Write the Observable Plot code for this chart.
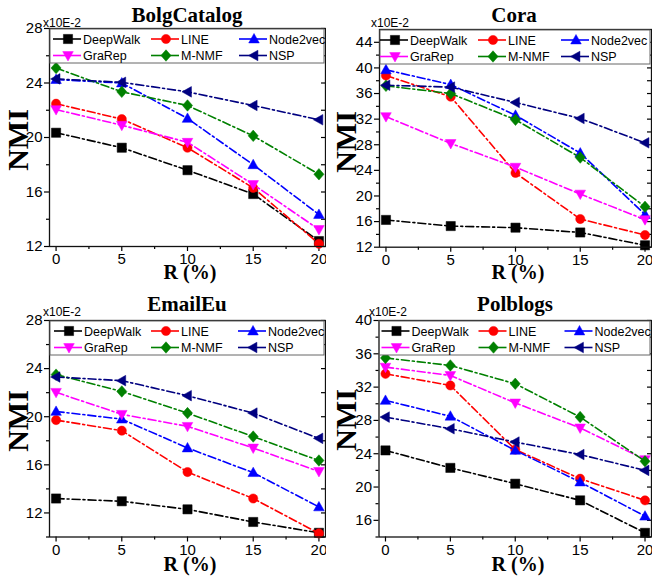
<!DOCTYPE html>
<html><head><meta charset="utf-8">
<script src="https://cdn.jsdelivr.net/npm/d3@7"></script>
<script src="https://cdn.jsdelivr.net/npm/@observablehq/plot@0.6"></script>
<style>
body{margin:0;background:#fff}
#wrap{position:relative;width:652px;height:578px;overflow:hidden;background:#fff}
.panel{position:absolute;overflow:hidden;background:#fff}
</style></head><body><div id="wrap"></div>
<script>
// ---- data ----
const R = [0, 5, 10, 15, 20];
const methods = ["DeepWalk", "LINE", "Node2vec", "GraRep", "M-NMF", "NSP"];
const colors = ["#000000", "#ff0000", "#0000ff", "#ff00ff", "#008000", "#000080"];
const datasetNames = ["BolgCatalog", "Cora", "EmailEu", "Polblogs"];
// rows in method order: DeepWalk, LINE, Node2vec, GraRep, M-NMF, NSP  (NMI x10E-2)
const bolgCatalog = [
  [20.35, 19.25, 17.6, 15.85, 12.4],
  [22.48, 21.35, 19.25, 16.3, 12.2],
  [24.25, 24.0, 21.4, 18.0, 14.35],
  [22.05, 20.9, 19.65, 16.55, 13.25],
  [25.1, 23.35, 22.35, 20.12, 17.3],
  [24.3, 24.05, 23.35, 22.35, 21.3]
];
const cora = [
  [16.26, 15.3, 15.05, 14.3, 12.3],
  [38.8, 35.5, 23.6, 16.4, 13.9],
  [39.7, 37.4, 32.6, 26.7, 17.1],
  [32.4, 28.2, 24.5, 20.3, 16.3],
  [37.2, 36.0, 31.9, 26.0, 18.3],
  [37.3, 37.0, 34.6, 32.1, 28.3]
];
const emailEu = [
  [13.2, 12.97, 12.3, 11.25, 10.35],
  [19.72, 18.84, 15.4, 13.2, 10.3],
  [20.44, 19.8, 17.4, 15.35, 12.5],
  [22.03, 20.2, 19.2, 17.4, 15.45],
  [23.5, 22.1, 20.3, 18.35, 16.36],
  [23.3, 23.0, 21.75, 20.3, 18.2]
];
const polblogs = [
  [24.4, 22.3, 20.4, 18.4, 14.5],
  [33.6, 32.2, 24.5, 21.0, 18.4],
  [30.4, 28.5, 24.4, 20.6, 16.5],
  [34.4, 33.4, 30.1, 27.1, 23.3],
  [35.5, 34.6, 32.4, 28.4, 23.1],
  [28.4, 27.0, 25.4, 23.9, 22.0]
];
const allValues = [bolgCatalog, cora, emailEu, polblogs];
const yDomains = [[12, 28], [12, 46], [10, 28], [14, 40]];
const yMajor = [[12, 16, 20, 24, 28], [12, 16, 20, 24, 28, 32, 36, 40, 44], [12, 16, 20, 24, 28], [16, 20, 24, 28, 32, 36, 40]];
const yMinor = [[14, 18, 22, 26], [14, 18, 22, 26, 30, 34, 38, 42], [10, 14, 18, 22, 26], [14, 18, 22, 26, 30, 34, 38]];
const xMajor = [0, 5, 10, 15, 20];
const xMinor = [2.5, 7.5, 12.5, 17.5];
const yUnitLabel = "x10E-2";
const yLabel = "NMI";
const xLabel = "R (%)";

// ---- layout ----
const panels = [
  {left: 0, top: 0, w: 326, h: 289, mL: 49, mR: 1, mT: 28, mB: 43, leg: [19, 117, 205], tx: 187, ty: 22, nx: 28, ny: 140, rx: 190, ry: 279, ux: 43, uy: 27},
  {left: 326, top: 0, w: 326, h: 289, mL: 53, mR: 1, mT: 29, mB: 42.3, leg: [16, 114, 197], tx: 188, ty: 22, nx: 30, ny: 142, rx: 192, ry: 279, ux: 45, uy: 27},
  {left: 0, top: 288, w: 326, h: 290, mL: 49, mR: 1, mT: 32, mB: 41.5, leg: [20, 117, 204], tx: 187, ty: 23, nx: 28, ny: 133, rx: 190, ry: 283, ux: 43, uy: 28},
  {left: 326, top: 288, w: 326, h: 290, mL: 52.5, mR: 1, mT: 32, mB: 41.5, leg: [18, 115, 201], tx: 189, ty: 23, nx: 30, ny: 132, rx: 192, ry: 283, ux: 43, uy: 28}
];

const sym = f => ({draw(ctx, size) { const r = Math.sqrt(size / Math.PI); f(ctx, r); }});
const poly = (ctx, pts) => { ctx.moveTo(pts[0][0], pts[0][1]); for (let i = 1; i < pts.length; i++) ctx.lineTo(pts[i][0], pts[i][1]); ctx.closePath(); };
const symbols = [
  sym((c, r) => poly(c, [[-r, -r], [r, -r], [r, r], [-r, r]])),
  sym((c, r) => { c.moveTo(r, 0); c.arc(0, 0, r, 0, 2 * Math.PI); }),
  sym((c, r) => poly(c, [[0, -1.2 * r], [1.15 * r, 0.85 * r], [-1.15 * r, 0.85 * r]])),
  sym((c, r) => poly(c, [[0, 1.2 * r], [1.15 * r, -0.85 * r], [-1.15 * r, -0.85 * r]])),
  sym((c, r) => poly(c, [[0, -1.25 * r], [1.1 * r, 0], [0, 1.25 * r], [-1.1 * r, 0]])),
  sym((c, r) => poly(c, [[-1.2 * r, 0], [0.85 * r, -1.15 * r], [0.85 * r, 1.15 * r]]))
];
const dotR = 4.6;
const dash = "8,3,2,3";
const sans = "'Liberation Sans', Arial, sans-serif";
const serif = "'Liberation Serif', 'Times New Roman', serif";

const wrap = document.getElementById("wrap");
panels.forEach((p, k) => {
  const vals = allValues[k];
  const fw = p.w - p.mL - p.mR;
  const marks = [
    Plot.axisX(xMajor, {tickSize: 5, tickPadding: 2, fontSize: 15, label: null, strokeWidth: 1.2, tickFormat: d => String(d)}),
    Plot.axisX(xMinor, {tickSize: 3, label: null, strokeWidth: 1.2, tickFormat: () => ""}),
    Plot.axisY(yMajor[k], {tickSize: 5, tickPadding: 2, fontSize: 15, label: null, strokeWidth: 1.2, tickFormat: d => String(d)}),
    Plot.axisY(yMinor[k], {tickSize: 3, label: null, strokeWidth: 1.2, tickFormat: () => ""}),
    Plot.tickY(yMajor[k].concat(yMinor[k]), {y: d => d, stroke: "#000", strokeWidth: 1.2, insetLeft: fw - 4})
  ];
  methods.forEach((name, mi) => {
    const d = vals[mi].map((v, i) => ({x: R[i], y: v}));
    marks.push(Plot.line(d, {x: "x", y: "y", stroke: colors[mi], strokeWidth: 1.6, strokeDasharray: dash}));
    marks.push(Plot.dot(d, {x: "x", y: "y", symbol: symbols[mi], r: dotR, fill: colors[mi], stroke: colors[mi], strokeWidth: 0.5}));
  });
  marks.push(Plot.frame({stroke: "#111", strokeWidth: 1.3}));
  const chart = Plot.plot({
    width: p.w, height: p.h,
    marginLeft: p.mL, marginRight: p.mR, marginTop: p.mT, marginBottom: p.mB,
    style: {fontFamily: sans, fontSize: "15px", color: "#000", background: "#fff", overflow: "visible"},
    x: {domain: [-0.5, 20.5]},
    y: {domain: yDomains[k]},
    marks
  });
  const div = document.createElement("div");
  div.className = "panel";
  div.style.left = p.left + "px"; div.style.top = p.top + "px";
  div.style.width = p.w + "px"; div.style.height = p.h + "px";
  div.appendChild(chart);
  wrap.appendChild(div);

  const svg = d3.select(chart);
  // legend
  const g = svg.append("g").attr("text-anchor", "start");
  g.append("rect").attr("x", p.mL + 1).attr("y", p.mT + 1).attr("width", fw - 2).attr("height", 34)
    .attr("fill", "#fff").attr("stroke", "#666").attr("stroke-width", 1);
  methods.forEach((name, mi) => {
    const col = mi % 3, row = Math.floor(mi / 3);
    const mx = p.mL + p.leg[col], my = p.mT + (row ? 27.5 : 11);
    g.append("line").attr("x1", mx - 15).attr("x2", mx + 13).attr("y1", my).attr("y2", my)
      .attr("stroke", colors[mi]).attr("stroke-width", 1.6);
    const path = d3.path();
    symbols[mi].draw(path, dotR * dotR * Math.PI);
    g.append("path").attr("d", path.toString()).attr("transform", `translate(${mx},${my})`)
      .attr("fill", colors[mi]).attr("stroke", colors[mi]).attr("stroke-width", 0.5);
    g.append("text").attr("x", mx + 15).attr("y", my).attr("dy", "0.36em").attr("text-anchor", "start")
      .attr("font-family", sans).attr("font-size", 12.5).attr("fill", "#000").text(name);
  });
  // titles and labels
  svg.append("text").attr("x", p.tx).attr("y", p.ty).attr("text-anchor", "middle")
    .attr("font-family", serif).attr("font-weight", "bold").attr("font-size", 21).attr("fill", "#000").text(datasetNames[k]);
  svg.append("text").attr("x", p.ux).attr("y", p.uy).attr("text-anchor", "start")
    .attr("font-family", sans).attr("font-size", 12).attr("fill", "#000").text(yUnitLabel);
  svg.append("text").attr("transform", `translate(${p.nx},${p.ny}) rotate(-90)`).attr("text-anchor", "middle")
    .attr("font-family", serif).attr("font-weight", "bold").attr("font-size", 30).attr("fill", "#000").text(yLabel);
  svg.append("text").attr("x", p.rx).attr("y", p.ry).attr("text-anchor", "middle")
    .attr("font-family", serif).attr("font-weight", "bold").attr("font-size", 20).attr("fill", "#000").text(xLabel);
});
</script></body></html>
